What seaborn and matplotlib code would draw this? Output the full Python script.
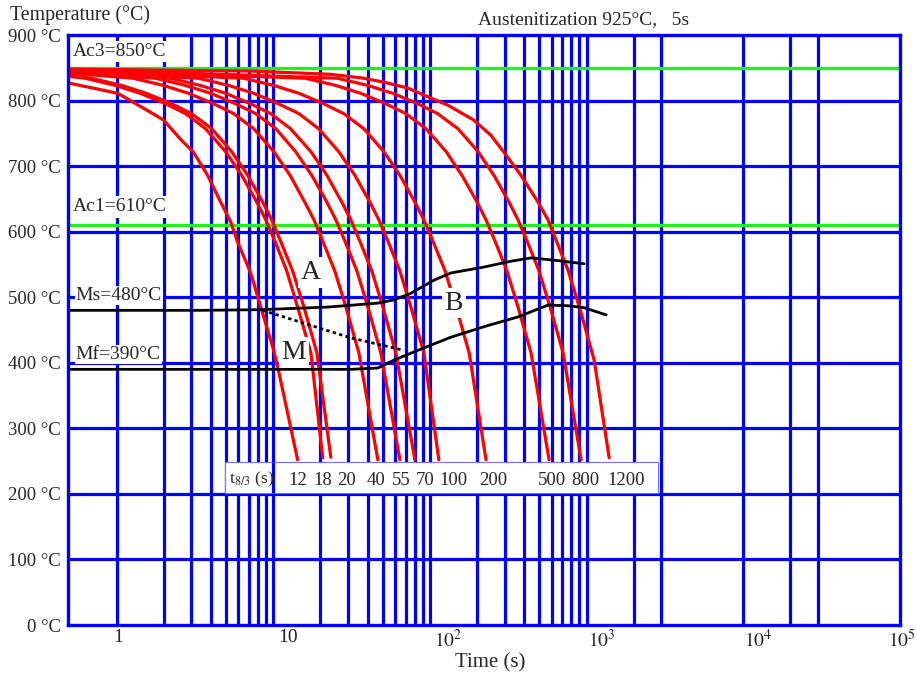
import matplotlib
matplotlib.use("Agg")
import matplotlib.pyplot as plt
from matplotlib.patches import Rectangle
from matplotlib.transforms import ScaledTranslation
import pandas as pd
import seaborn as sns

# ---------------- data ----------------
# Cooling curves, labelled by their t8/3 cooling time (s)
t83_labels = ["12", "18", "20", "40", "55", "70", "100", "200", "500", "800", "1200"]

time_12 = [0.49, 1.02, 1.65, 2.00, 2.56, 3.10, 3.81, 4.62, 5.35, 5.93, 7.18, 8.32, 9.93, 10.7, 14.3]
temp_12 = [827, 811, 782, 770, 741, 721, 686, 645, 615, 584, 537, 485, 424, 393, 252]

time_18 = [0.49, 0.634, 0.985, 1.42, 2.06, 2.76, 3.70, 4.97, 6.29, 7.85, 8.96, 10.4, 12.2, 14.3, 17.4, 20.7]
temp_18 = [837, 834, 823, 811, 795, 780, 757, 722, 686, 645, 618, 582, 540, 485, 415, 255]

time_20 = [0.49, 0.692, 1.08, 1.55, 2.25, 3.01, 4.05, 5.43, 6.87, 8.57, 9.78, 11.3, 13.3, 15.7, 19.0, 23.3]
temp_20 = [838, 834, 823, 811, 795, 780, 757, 722, 686, 645, 618, 582, 540, 485, 415, 256]

time_40 = [0.49, 1.28, 2.00, 2.88, 4.17, 5.59, 7.51, 10.1, 12.8, 15.9, 18.2, 21.0, 24.7, 29.1, 35.2, 46.5]
temp_40 = [842, 834, 823, 811, 795, 780, 757, 722, 686, 645, 618, 582, 540, 485, 415, 252]

time_55 = [0.49, 1.78, 2.76, 3.99, 5.76, 7.73, 10.4, 13.9, 17.6, 22.0, 25.1, 29.1, 34.2, 40.2, 48.6, 64.3]
temp_55 = [843, 834, 823, 811, 795, 780, 757, 722, 686, 645, 618, 582, 540, 485, 415, 252]

time_70 = [0.49, 2.21, 3.44, 4.97, 7.18, 9.64, 12.9, 17.4, 22.0, 27.4, 31.3, 36.2, 42.6, 50.1, 60.6, 80.2]
temp_70 = [844, 834, 823, 811, 795, 780, 757, 722, 686, 645, 618, 582, 540, 485, 415, 252]

time_100 = [0.49, 3.34, 5.20, 7.51, 10.8, 14.6, 19.5, 26.2, 33.2, 41.4, 47.2, 54.7, 64.3, 75.6, 91.5, 114]
temp_100 = [845, 834, 823, 811, 795, 780, 757, 722, 686, 645, 618, 582, 540, 485, 415, 252]

time_200 = [0.49, 6.48, 10.1, 14.6, 21.0, 28.2, 37.9, 50.8, 64.3, 80.2, 91.5, 106, 125, 147, 178, 228]
temp_200 = [846, 834, 823, 811, 795, 780, 757, 722, 686, 645, 618, 582, 540, 485, 415, 252]

time_500 = [0.49, 16.1, 25.1, 36.2, 52.4, 70.3, 94.3, 127, 160, 200, 228, 264, 310, 365, 442, 576]
temp_500 = [847, 834, 823, 811, 795, 780, 757, 722, 686, 645, 618, 582, 540, 485, 415, 252]

time_800 = [0.49, 25.8, 40.2, 58.0, 83.8, 112, 151, 203, 256, 320, 365, 423, 497, 585, 708, 922]
temp_800 = [848, 834, 823, 811, 795, 780, 757, 722, 686, 645, 618, 582, 540, 485, 415, 252]

time_1200 = [0.49, 7.18, 23.3, 37.9, 50.8, 72.3, 101, 130, 191, 245, 297, 381, 490, 567, 762, 922, 1117, 1393]
temp_1200 = [848, 845, 840, 834, 828, 819, 804, 793, 770, 747, 721, 686, 645, 618, 541, 476, 404, 255]

# Transformation temperatures (°C)
AC3 = 850
AC1 = 610
MS = 480
MF = 390

# Upper transformation line (Ms, rising into the bainite field)
time_upper = [0.49, 3.44, 8.32, 22.3, 46.5, 58.9, 75.6, 106, 136, 221, 330, 442, 593, 964]
temp_upper = [MS, 480, 481, 485, 491, 496, 506, 526, 537, 546, 555, 560, 557, 551]

# Lower transformation line (Mf, rising into the bainite field)
time_lower = [0.49, 31.3, 46.5, 58.9, 83.8, 136, 221, 365, 567, 762, 964, 1333]
temp_lower = [MF, 390, 392, 404, 419, 439, 455, 470, 488, 487, 484, 473]

# Dotted boundary inside the martensite field
time_dot = [8.57, 31.3, 68.2]
temp_dot = [480, 438, 419]

# Grid and axis ticks
grid_time = [1, 2, 3, 4, 5, 6, 7, 8, 9,
             10, 20, 30, 40, 50, 60, 70, 80, 90,
             100, 200, 300, 400, 500, 600, 700, 800, 900,
             1000, 2000, 3000, 10000, 20000, 30000]
grid_temp = [100, 200, 300, 400, 500, 600, 700, 800]
xtick_vals = [1, 10, 100, 1000, 10000, 100000]
xtick_text = ["1", "10", r"$10^{2}$", r"$10^{3}$", r"$10^{4}$", r"$10^{5}$"]
ytick_vals = [0, 100, 200, 300, 400, 500, 600, 700, 800, 900]

# ---------------- layout / style ----------------
BLUE = "#0000ff"
RED = "#ff0000"
GREEN = "#22ee22"
xtick_shift_px = [2, 15, 18, 15, 15, 2]
label_row_time = [14.3, 20.7, 29.5, 45.2, 65.3, 92.9, 142, 253, 602, 978, 1788]

sns.set_theme(style="white")
plt.rcParams["font.family"] = ["Liberation Serif", "DejaVu Serif"]
plt.rcParams["mathtext.fontset"] = "stix"

fig = plt.figure(figsize=(9.17, 6.75), dpi=100)
ax = fig.add_axes([68 / 917, 50 / 675, 832 / 917, 590 / 675])
ax.set_xscale("log")
ax.set_xlim(0.49, 1.0e5)
ax.set_ylim(0, 900)

# blue grid
for v in grid_time:
    ax.axvline(v, color=BLUE, lw=2.3, zorder=1)
for v in grid_temp:
    ax.axhline(v, color=BLUE, lw=2.3, zorder=1)

# Ac3 / Ac1
ax.axhline(AC3, color=GREEN, lw=2.4, zorder=2)
ax.axhline(AC1, color=GREEN, lw=2.4, zorder=2)

# cooling curves
curve_times = [time_12, time_18, time_20, time_40, time_55, time_70,
               time_100, time_200, time_500, time_800, time_1200]
curve_temps = [temp_12, temp_18, temp_20, temp_40, temp_55, temp_70,
               temp_100, temp_200, temp_500, temp_800, temp_1200]
rows = []
for lab, ts, Ts in zip(t83_labels, curve_times, curve_temps):
    for i, (t, T) in enumerate(zip(ts, Ts)):
        rows.append({"curve": lab, "order": i, "time": t, "temp": T})
curves = pd.DataFrame(rows)
sns.lineplot(data=curves, x="time", y="temp", units="curve", estimator=None,
             sort=False, color=RED, lw=2.3, ax=ax, zorder=3)

# transformation lines
lines = pd.concat([
    pd.DataFrame({"line": "upper", "time": time_upper, "temp": temp_upper}),
    pd.DataFrame({"line": "lower", "time": time_lower, "temp": temp_lower}),
])
sns.lineplot(data=lines, x="time", y="temp", units="line", estimator=None,
             sort=False, color="black", lw=2.0, ax=ax, zorder=4)
sns.lineplot(x=time_dot, y=temp_dot, sort=False, color="black", lw=2.0,
             linestyle=(0, (1.2, 1.2)), ax=ax, zorder=4)

# frame
for s in ax.spines.values():
    s.set_color(BLUE)
    s.set_linewidth(2.4)
    s.set_zorder(6)

# labels with white backing
box = dict(boxstyle="square,pad=0.12", fc="white", ec="none")
ax.text(0.525, 875, f"Ac3={AC3}°C", fontsize=14, ha="left", va="center", bbox=box, zorder=5)
ax.text(0.525, 638, f"Ac1={AC1}°C", fontsize=14, ha="left", va="center", bbox=box, zorder=5)
ax.text(0.55, 503, f"Ms={MS}°C", fontsize=14, ha="left", va="center",
        bbox=dict(boxstyle="square,pad=0.06", fc="white", ec="none"), zorder=5)
ax.text(0.55, 413, f"Mf={MF}°C", fontsize=14, ha="left", va="center",
        bbox=dict(boxstyle="square,pad=0.06", fc="white", ec="none"), zorder=5)
big = dict(boxstyle="square,pad=0.1", fc="white", ec="none")
ax.text(17.4, 538, "A", fontsize=20, ha="center", va="center", bbox=big, zorder=5)
ax.text(13.5, 416, "M", fontsize=20, ha="center", va="center", bbox=big, zorder=5)
ax.text(142, 491, "B", fontsize=20, ha="center", va="center", bbox=big, zorder=5)

# t8/3 label row
ax.add_patch(Rectangle((4.9, 202), 2870 - 4.9, 46, fc="white", ec="#7070ff",
                       lw=0.8, zorder=5))
ax.vlines(10, 202, 248, color=BLUE, lw=2.3, zorder=5.5)
ax.text(5.25, 222, r"t$_{8/3}$ (s)", fontsize=12.5, ha="left", va="center", zorder=6)
for lab, t in zip(t83_labels, label_row_time):
    ax.text(t, 221, lab, fontsize=13.5, ha="center", va="center", zorder=6)

# ticks
ax.xaxis.set_minor_locator(matplotlib.ticker.NullLocator())
ax.set_xticks(xtick_vals)
ax.set_xticklabels(xtick_text, fontsize=14)
ax.set_yticks(ytick_vals)
ax.set_yticklabels([f"{v} °C" for v in ytick_vals], fontsize=13.5)
ax.tick_params(length=0)
ax.tick_params(axis="x", pad=3)
ax.tick_params(axis="y", pad=5)
for lab, dx in zip(ax.get_xticklabels(), xtick_shift_px):
    lab.set_transform(lab.get_transform() + ScaledTranslation(dx / 100, 0, fig.dpi_scale_trans))
ax.set_xlabel("")
ax.set_ylabel("")

fig.text(10 / 917, 1 - 15 / 675, "Temperature (°C)", fontsize=14.3, ha="left", va="center")
fig.text(478 / 917, 1 - 20 / 675, "Austenitization 925°C,   5s", fontsize=14, ha="left", va="center")
fig.text(490 / 917, 1 - 663 / 675, "Time (s)", fontsize=15, ha="center", va="center")

fig.savefig("out.png", dpi=100, facecolor="white")
